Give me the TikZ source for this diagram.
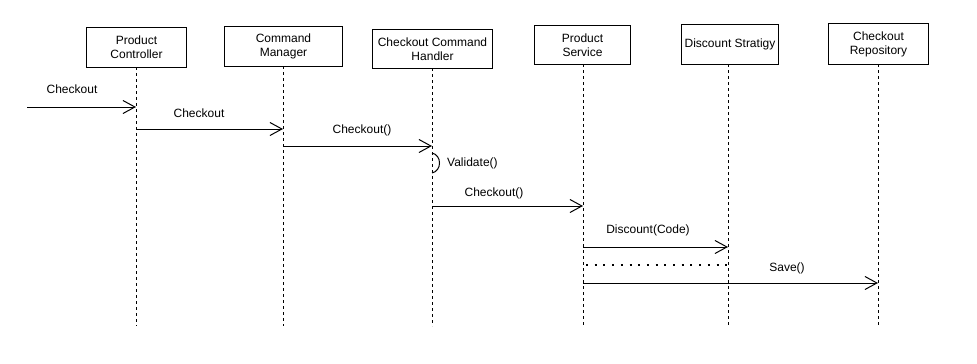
\documentclass[tikz,border=0pt]{standalone}
\usepackage{fontspec}
\setmainfont{Liberation Sans}
\usetikzlibrary{arrows.meta}
\begin{document}
\begin{tikzpicture}[x=1pt,y=-1pt,
  font=\fontsize{12}{14}\selectfont,
  actor/.style={draw,line width=1pt,align=center,inner sep=0pt,anchor=north west},
  lifeline/.style={draw,line width=1pt,dash pattern=on 3pt off 3pt},
  msg/.style={draw,line width=1pt,-{Straight Barb[length=12pt,width=13pt,line width=1pt]}},
  reply/.style={draw,line width=2pt,dash pattern=on 2pt off 6.7pt},
  lbl/.style={inner sep=0pt,anchor=center}]
\useasboundingbox (0,0) rectangle (977,364);

% participants
\node[actor,minimum width=100pt,minimum height=40pt] (pc) at (86,27) {Product\\Controller};
\node[actor,minimum width=118pt,minimum height=40pt] (cm) at (224,26) {Command\\Manager};
\node[actor,minimum width=120pt,minimum height=39pt] (ch) at (372,29) {Checkout Command\\Handler};
\node[actor,minimum width=96pt,minimum height=39pt] (ps) at (534,25) {Product\\Service};
\node[actor,minimum width=97pt,minimum height=40pt] (ds) at (681,24) {Discount Stratigy};
\node[actor,minimum width=100pt,minimum height=41pt] (cr) at (828,23) {Checkout\\Repository};

% lifeline ends
\coordinate (pcE) at (136,326);
\coordinate (cmE) at (283,326);
\coordinate (chE) at (432,326);
\coordinate (psE) at (583,326);
\coordinate (dsE) at (728,326);
\coordinate (crE) at (878,326);
\draw[lifeline] (136,67) -- (pcE);
\draw[lifeline] (283,66) -- (cmE);
\draw[lifeline] (432,68) -- (chE);
\draw[lifeline] (583,64) -- (psE);
\draw[lifeline] (728,64) -- (dsE);
\draw[lifeline] (878,64) -- (crE);

% message anchor points
\coordinate (start) at (27,107);
\coordinate (pc1) at (136,107);
\coordinate (pc2) at (136,129);
\coordinate (cm2) at (283,129);
\coordinate (cm3) at (283,146);
\coordinate (ch3) at (432,146);
\coordinate (chv1) at (432,153);
\coordinate (chv2) at (432,173);
\coordinate (ch4) at (432,206);
\coordinate (ps4) at (583,206);
\coordinate (ps5) at (583,247);
\coordinate (ds5) at (728,247);
\coordinate (ps6) at (586,265);
\coordinate (ds6) at (728,265);
\coordinate (ps7) at (583,283);
\coordinate (cr7) at (878,283);

% messages
\draw[msg] (start) -- (pc1);
\node[lbl] (l1) at (72,89) {Checkout};
\draw[msg] (pc2) -- (cm2);
\node[lbl] (l2) at (199,113) {Checkout};
\draw[msg] (cm3) -- (ch3);
\node[lbl] (l3) at (362,130) {Checkout()};
\draw[line width=1pt] (chv1) .. controls (442,155) and (442,171) .. (chv2);
\node[lbl,anchor=west] (l4) at (447,163) {Validate()};
\draw[msg] (ch4) -- (ps4);
\node[lbl] (l5) at (494,193) {Checkout()};
\draw[msg] (ps5) -- (ds5);
\node[lbl] (l6) at (648,230) {Discount(Code)};
\draw[reply] (ps6) -- (ds6);
\draw[msg] (ps7) -- (cr7);
\node[lbl] (l7) at (787,268) {Save()};
\end{tikzpicture}
\end{document}
